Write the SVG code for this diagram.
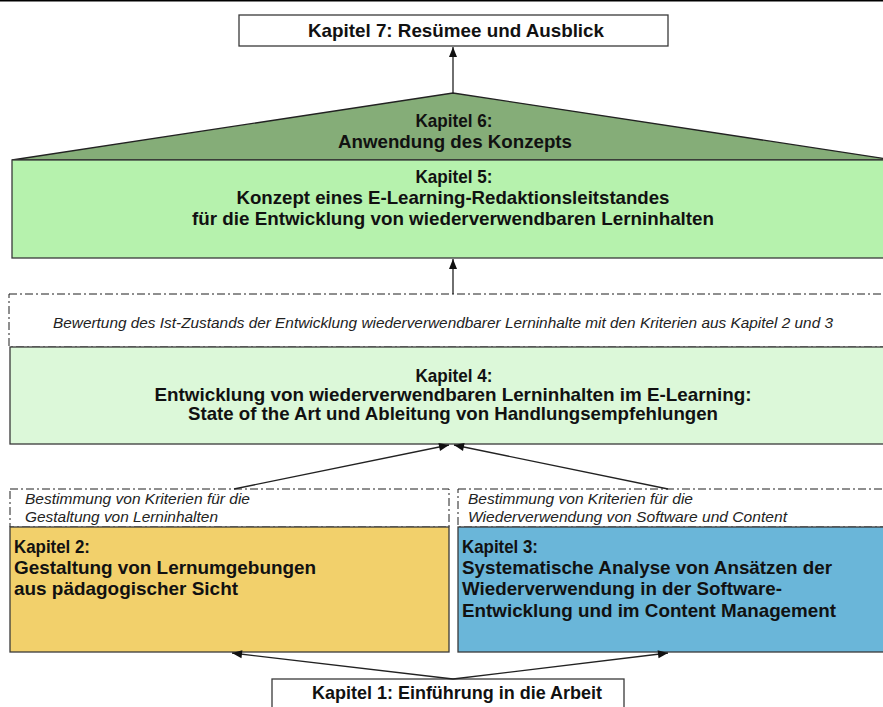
<svg xmlns="http://www.w3.org/2000/svg" width="883" height="707" viewBox="0 0 883 707">
  <defs>
    <marker id="arrow" viewBox="0 0 10 10" refX="10" refY="5" markerWidth="11" markerHeight="10" markerUnits="userSpaceOnUse" orient="auto">
      <path d="M0,1 L10,5 L0,9 Z" fill="#111"/>
    </marker>
  </defs>
  <style>
    .box { stroke: #3a3a3a; stroke-width: 1.3; }
    .dash { fill: #ffffff; stroke: #1e1e1e; stroke-width: 1; stroke-dasharray: 8 3 2 3; }
    .title { font-family: "Liberation Sans", Arial, sans-serif; font-weight: bold; font-size: 18.5px; fill: #111; }
    .note { font-family: "Liberation Sans", Arial, sans-serif; font-style: italic; font-size: 15px; fill: #222; }
    .conn { stroke: #222; stroke-width: 1.3; fill: none; marker-end: url(#arrow); }
  </style>

  <rect x="0" y="0" width="883" height="707" fill="#ffffff"/>
  <rect x="0" y="0" width="883" height="1.5" fill="#000"/>

  <!-- chapter 7 -->
  <g id="kapitel7">
    <rect class="box" x="239" y="15" width="429" height="31" fill="#ffffff"/>
    <text class="title" x="456" y="37" text-anchor="middle" textLength="296" lengthAdjust="spacingAndGlyphs">Kapitel 7: Resümee und Ausblick</text>
  </g>

  <!-- chapter 6: roof over chapter 5 -->
  <g id="kapitel6">
    <polygon points="12,160 453,93 894,160" fill="#85ad78" stroke="#222" stroke-width="1.3"/>
    <text class="title" x="454" y="127" text-anchor="middle" textLength="77" lengthAdjust="spacingAndGlyphs">Kapitel 6:</text>
    <text class="title" x="455" y="148" text-anchor="middle" textLength="234" lengthAdjust="spacingAndGlyphs">Anwendung des Konzepts</text>
  </g>

  <!-- chapter 5 -->
  <g id="kapitel5">
    <rect class="box" x="12" y="160" width="882" height="98" fill="#b6f2ad"/>
    <text class="title" x="454" y="183" text-anchor="middle" textLength="77" lengthAdjust="spacingAndGlyphs">Kapitel 5:</text>
    <text class="title" x="453" y="204" text-anchor="middle" textLength="433" lengthAdjust="spacingAndGlyphs">Konzept eines E-Learning-Redaktionsleitstandes</text>
    <text class="title" x="453" y="225" text-anchor="middle" textLength="522" lengthAdjust="spacingAndGlyphs">für die Entwicklung von wiederverwendbaren Lerninhalten</text>
  </g>

  <!-- evaluation step -->
  <g id="bewertung">
    <rect class="dash" x="9" y="294" width="885" height="53"/>
    <text class="note" x="443" y="328" text-anchor="middle" textLength="780" lengthAdjust="spacingAndGlyphs">Bewertung des Ist-Zustands der Entwicklung wiederverwendbarer Lerninhalte mit den Kriterien aus Kapitel 2 und 3</text>
  </g>

  <!-- chapter 4 -->
  <g id="kapitel4">
    <rect class="box" x="10" y="347" width="884" height="97" fill="#dcf8d9"/>
    <text class="title" x="454" y="382" text-anchor="middle" textLength="77" lengthAdjust="spacingAndGlyphs">Kapitel 4:</text>
    <text class="title" x="453" y="401" text-anchor="middle" textLength="597" lengthAdjust="spacingAndGlyphs">Entwicklung von wiederverwendbaren Lerninhalten im E-Learning:</text>
    <text class="title" x="453" y="420" text-anchor="middle" textLength="530" lengthAdjust="spacingAndGlyphs">State of the Art und Ableitung von Handlungsempfehlungen</text>
  </g>

  <!-- criteria notes -->
  <g id="kriterien-lerninhalte">
    <rect class="dash" x="10" y="489" width="439" height="38"/>
    <text class="note" x="25" y="504" textLength="225" lengthAdjust="spacingAndGlyphs">Bestimmung von Kriterien für die</text>
    <text class="note" x="25" y="522" textLength="193" lengthAdjust="spacingAndGlyphs">Gestaltung von Lerninhalten</text>
  </g>
  <g id="kriterien-wiederverwendung">
    <rect class="dash" x="458" y="489" width="436" height="38"/>
    <text class="note" x="468" y="504" textLength="225" lengthAdjust="spacingAndGlyphs">Bestimmung von Kriterien für die</text>
    <text class="note" x="468" y="522" textLength="319" lengthAdjust="spacingAndGlyphs">Wiederverwendung von Software und Content</text>
  </g>

  <!-- chapter 2 -->
  <g id="kapitel2">
    <rect class="box" x="10" y="527" width="439" height="125" fill="#f2d06b"/>
    <text class="title" x="14" y="553" textLength="76" lengthAdjust="spacingAndGlyphs">Kapitel 2:</text>
    <text class="title" x="14" y="574" textLength="302" lengthAdjust="spacingAndGlyphs">Gestaltung von Lernumgebungen</text>
    <text class="title" x="14" y="595" textLength="224" lengthAdjust="spacingAndGlyphs">aus pädagogischer Sicht</text>
  </g>

  <!-- chapter 3 -->
  <g id="kapitel3">
    <rect class="box" x="458" y="527" width="436" height="125" fill="#6ab6d9"/>
    <text class="title" x="462" y="553" textLength="76" lengthAdjust="spacingAndGlyphs">Kapitel 3:</text>
    <text class="title" x="462" y="574" textLength="370" lengthAdjust="spacingAndGlyphs">Systematische Analyse von Ansätzen der</text>
    <text class="title" x="462" y="595" textLength="320" lengthAdjust="spacingAndGlyphs">Wiederverwendung in der Software-</text>
    <text class="title" x="462" y="617" textLength="374" lengthAdjust="spacingAndGlyphs">Entwicklung und im Content Management</text>
  </g>

  <!-- chapter 1 -->
  <g id="kapitel1">
    <rect class="box" x="272" y="679" width="352" height="40" fill="#ffffff"/>
    <text class="title" x="457" y="699" text-anchor="middle" textLength="290" lengthAdjust="spacingAndGlyphs">Kapitel 1: Einführung in die Arbeit</text>
  </g>

  <!-- connectors -->
  <g id="connectors">
    <line class="conn" x1="453" y1="93" x2="453" y2="47"/>
    <line class="conn" x1="453" y1="294" x2="453" y2="259"/>
    <line class="conn" x1="234" y1="489" x2="449" y2="445"/>
    <line class="conn" x1="668" y1="489" x2="454" y2="445"/>
    <line class="conn" x1="453" y1="679" x2="232" y2="653"/>
    <line class="conn" x1="453" y1="679" x2="668" y2="653"/>
  </g>
</svg>
